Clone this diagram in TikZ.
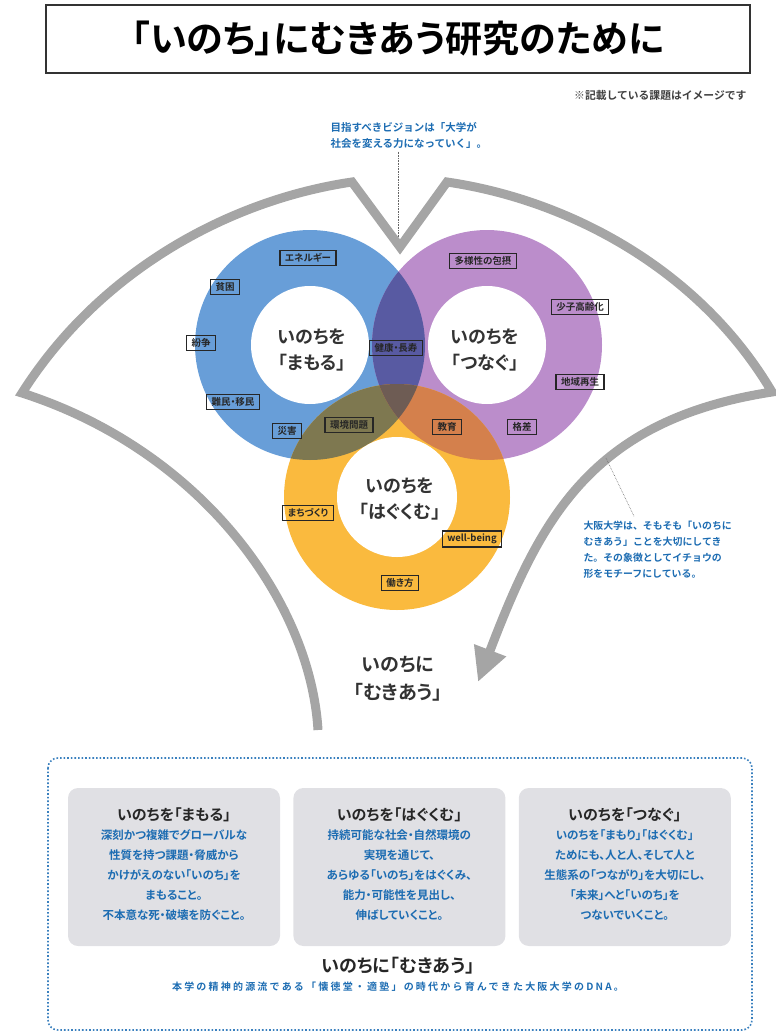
\documentclass[tikz,border=0pt]{standalone}
\usepackage{fontspec}
\setmainfont{Noto Sans CJK JP}[BoldFont={Noto Sans CJK JP Bold}, RawFeature=+palt]
\newfontfamily\plainjp{Noto Sans CJK JP}[BoldFont={Noto Sans CJK JP Bold}]
\newfontfamily\widejp{Noto Sans CJK JP}[BoldFont={Noto Sans CJK JP Bold}, LetterSpace=22]
\usepackage{tikz}
\usetikzlibrary{arrows.meta, positioning, calc}
\definecolor{leafgray}{RGB}{165,165,165}
\definecolor{mamorublue}{RGB}{104,158,216}
\definecolor{tsunagupurple}{RGB}{187,141,203}
\definecolor{hagukumuyellow}{RGB}{250,186,62}
\definecolor{bluepurple}{RGB}{88,90,162}
\definecolor{blueyellow}{RGB}{126,120,80}
\definecolor{purpleyellow}{RGB}{212,128,76}
\definecolor{allthree}{RGB}{110,92,84}
\definecolor{noteblue}{RGB}{28,108,178}
\definecolor{panelgray}{RGB}{224,224,228}
\definecolor{framedot}{RGB}{58,128,190}
\tikzstyle{issue} = [rectangle, draw=black!85, line width=1.3pt, inner xsep=5pt, inner ysep=3pt, text=black!85, font=\fontsize{9.5}{10}\selectfont\bfseries]
\tikzstyle{core} = [align=center, text=black!80, font=\fontsize{18}{26}\selectfont\bfseries]
\tikzstyle{callout} = [align=left, text=noteblue, font=\plainjp\fontsize{10.5}{15.5}\selectfont\bfseries]
\tikzstyle{leader} = [densely dotted, line width=0.6pt, black!60]
\tikzstyle{panel} = [rectangle, rounded corners=10pt, fill=panelgray, minimum width=212pt, minimum height=158pt]
\tikzstyle{paneltitle} = [text=black!85, font=\fontsize{15}{18}\selectfont\bfseries]
\tikzstyle{panelbody} = [align=center, text=noteblue, font=\fontsize{11.5}{20}\selectfont\bfseries]

\begin{document}
\begin{tikzpicture}[x=1pt, y=-1pt]
\useasboundingbox (0,0) rectangle (776,1036);
\node (title) [draw=black!80, line width=1.2pt, minimum width=704pt, minimum height=68pt, font=\fontsize{37}{40}\selectfont\bfseries] at (398,39) {「いのち」にむきあう研究のために};
\node (disclaimer) [anchor=east, text=black!75, font=\plainjp\fontsize{10.8}{12}\selectfont\bfseries] at (750,95) {※記載している課題はイメージです};
\node (vision) [callout, anchor=north west] at (327,119) {目指すべきビジョンは「大学が\\社会を変える力になっていく」。};
\coordinate (notch) at (398,240);
\draw [leader] (vision.south -| notch) -- (notch);

\draw [leafgray, line width=9pt, line join=miter, -{Triangle[length=34pt, width=32pt]}]
  (318,730) .. controls (310,600) and (200,450) .. (22,393)
  .. controls (100,270) and (230,200) .. (352,182)
  -- (400,247) -- (447,182)
  .. controls (570,200) and (700,270) .. (772,392)
  .. controls (590,420) and (540,520) .. (478,682);

\coordinate (mamoru) at (310,345);
\coordinate (tsunagu) at (487,345);
\coordinate (hagukumu) at (397,497);
\fill [mamorublue] (mamoru) circle (115pt);
\fill [tsunagupurple] (tsunagu) circle (115pt);
\fill [hagukumuyellow] (hagukumu) circle (113pt);
\begin{scope}
\clip (mamoru) circle (115pt);
\fill [bluepurple] (tsunagu) circle (115pt);
\fill [blueyellow] (hagukumu) circle (113pt);
\end{scope}
\begin{scope}
\clip (tsunagu) circle (115pt);
\fill [purpleyellow] (hagukumu) circle (113pt);
\end{scope}
\begin{scope}
\clip (mamoru) circle (115pt);
\clip (tsunagu) circle (115pt);
\fill [allthree] (hagukumu) circle (113pt);
\end{scope}
\fill [white] (mamoru) circle (59pt);
\fill [white] (tsunagu) circle (59pt);
\fill [white] (hagukumu) circle (60pt);

\node (mamorutext) [core] at (312,350) {いのちを\\「まもる」};
\node (tsunagutext) [core] at (485,350) {いのちを\\「つなぐ」};
\node (hagukumutext) [core] at (400,499) {いのちを\\「はぐくむ」};

\node (energy) [issue] at (308,258) {エネルギー};
\node (poverty) [issue] at (225,287) {貧困};
\node (conflict) [issue] at (201,343) {紛争};
\node (refugees) [issue] at (233,402) {難民・移民};
\node (disaster) [issue] at (287,431) {災害};
\node (environment) [issue] at (349,425) {環境問題};
\node (health) [issue] at (396,348) {健康・長寿};
\node (diversity) [issue] at (483,261) {多様性の包摂};
\node (aging) [issue] at (580,307) {少子高齢化};
\node (region) [issue] at (580,382) {地域再生};
\node (inequality) [issue] at (522,427) {格差};
\node (education) [issue] at (447,427) {教育};
\node (townmaking) [issue] at (308,513) {まちづくり};
\node (wellbeing) [issue] at (472,539) {well-being};
\node (workstyle) [issue] at (400,583) {働き方};

\node (osaka) [callout, anchor=north west, font=\plainjp\fontsize{9.9}{16}\selectfont\bfseries] at (580,517) {大阪大学は、そもそも「いのちに\\むきあう」ことを大切にしてき\\た。その象徴としてイチョウの\\形をモチーフにしている。};
\coordinate (leafedge) at (606,458);
\draw [leader] (leafedge) -- ($(osaka.north west)!0.35!(osaka.north east)$);

\node (mukiau) [core, font=\fontsize{19}{28}\selectfont\bfseries] at (398,679) {いのちに\\「むきあう」};

\draw [framedot, line width=1.6pt, dotted, rounded corners=10pt] (48,758) rectangle (752,1030);
\node (panelA) [panel] at (174,867) {};
\node (panelB) [panel, right=13pt of panelA] {};
\node (panelC) [panel, right=13pt of panelB] {};
\node (mamoruhead) [paneltitle, below=16pt of panelA.north] {いのちを「まもる」};
\node (hagukumuhead) [paneltitle, below=16pt of panelB.north] {いのちを「はぐくむ」};
\node (tsunaguhead) [paneltitle, below=16pt of panelC.north] {いのちを「つなぐ」};
\node (mamorubody) [panelbody, below=1pt of mamoruhead] {深刻かつ複雑でグローバルな\\性質を持つ課題・脅威から\\かけがえのない「いのち」を\\まもること。\\不本意な死・破壊を防ぐこと。};
\node (hagukumubody) [panelbody, below=1pt of hagukumuhead] {持続可能な社会・自然環境の\\実現を通じて、\\あらゆる「いのち」をはぐくみ、\\能力・可能性を見出し、\\伸ばしていくこと。};
\node (tsunagubody) [panelbody, below=1pt of tsunaguhead] {いのちを「まもり」「はぐくむ」\\ためにも、人と人、そして人と\\生態系の「つながり」を大切にし、\\「未来」へと「いのち」を\\つないでいくこと。};

\node (dnahead) [paneltitle, font=\fontsize{18}{20}\selectfont\bfseries] at (398,966) {いのちに「むきあう」};
\node (dna) [text=noteblue, font=\widejp\fontsize{10}{12}\selectfont\bfseries, below=0pt of dnahead] {本学の精神的源流である「懐徳堂・適塾」の時代から育んできた大阪大学のDNA。};
\end{tikzpicture}
\end{document}
